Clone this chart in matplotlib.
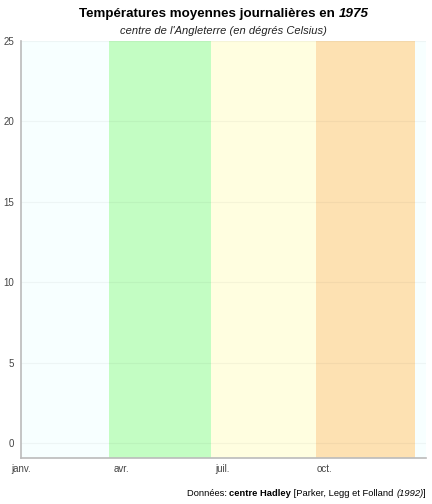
#!/usr/bin/env python
# -*- coding: utf-8 -*-
"""
Seasonal bands for the daily mean temperature chart of 1975 (central England).
"""
from datetime import date

import matplotlib
matplotlib.use('Agg')
import matplotlib.pyplot as plt
import matplotlib.dates as mdates

# ~~~ Data ~~~~~~~~~~~~~~~~~~~~~~~~~~~~~~~~~~~~~~~~~~~~~~~~~~~~~~~~~~~~~~~~~~~ #
seasons = ['hiver', 'printemps', 'été', 'automne', 'hiver']
season_start = [date(1975, 1, 1), date(1975, 3, 21), date(1975, 6, 21),
                date(1975, 9, 23), date(1975, 12, 21)]
season_end = [date(1975, 3, 21), date(1975, 6, 21), date(1975, 9, 23),
              date(1975, 12, 21), date(1975, 12, 31)]
month_ticks = [date(1975, 1, 1), date(1975, 4, 1), date(1975, 7, 1),
               date(1975, 10, 1)]
month_labels = ['janv.', 'avr.', 'juil.', 'oct.']
y_ticks = [0, 5, 10, 15, 20, 25]

# ~~~ Styles ~~~~~~~~~~~~~~~~~~~~~~~~~~~~~~~~~~~~~~~~~~~~~~~~~~~~~~~~~~~~~~~~~ #
season_colors = {'hiver': '#F7FFFF', 'printemps': '#C3FDC3',
                 'été': '#FFFEE0', 'automne': '#FDE1B2'}
plt.rcParams['font.family'] = ['Liberation Sans', 'DejaVu Sans']

W, H = 432, 504
fig = plt.figure(figsize=(W / 100, H / 100), dpi=100)
ax = fig.add_axes([21 / W, 46 / H, 405 / W, 417 / H])

for name, d0, d1 in zip(seasons, season_start, season_end):
    ax.axvspan(d0, d1, color=season_colors[name], lw=0, zorder=0)

ax.set_xlim(date(1975, 1, 1), date(1975, 12, 31))
ax.set_ylim(-0.93, 25)
ax.set_xticks(month_ticks)
ax.set_xticklabels(month_labels)
ax.set_yticks(y_ticks)
ax.tick_params(length=0, labelsize=7, colors='#444444', pad=5)
ax.tick_params(axis='x', pad=4)
ax.grid(axis='y', color='#000000', alpha=0.04, lw=0.8, zorder=1)
ax.set_axisbelow(False)
for side in ['top', 'right']:
    ax.spines[side].set_visible(False)
for side in ['left', 'bottom']:
    ax.spines[side].set_color('#bbbbbb')
    ax.spines[side].set_linewidth(1.2)
    ax.spines[side].set_zorder(3)

renderer = fig.canvas.get_renderer()


def mixed_text(parts, x_px, y_px, size, align='right'):
    """Write pieces of text with different styles on one line."""
    items = []
    total = 0
    for txt, weight, style in parts:
        t = fig.text(0, 0, txt, fontsize=size, fontweight=weight,
                     fontstyle=style, ha='left', va='baseline',
                     transform=None)
        w = t.get_window_extent(renderer).width
        items.append((t, w))
        total += w
    if align == 'right':
        x = x_px - total
    else:
        x = x_px - total / 2
    for t, w in items:
        t.set_position((x, H - y_px))
        x += w


mixed_text([('Températures moyennes journalières en ', 'bold', 'normal'),
            ('1975', 'bold', 'italic')], 223.5, 17, 9.6, align='center')
fig.text(223.5 / W, 1 - 31 / H, "centre de l'Angleterre (en dégrés Celsius)",
         fontsize=8, fontstyle='italic', ha='center', va='center',
         color='#222222')
mixed_text([('Données: ', 'normal', 'normal'),
            ('centre Hadley', 'bold', 'normal'),
            (' [Parker, Legg et Folland ', 'normal', 'normal'),
            ('(1992)', 'normal', 'italic'),
            (']', 'normal', 'normal')], 426, 496, 6.75)

fig.savefig('out.png', dpi=100)
